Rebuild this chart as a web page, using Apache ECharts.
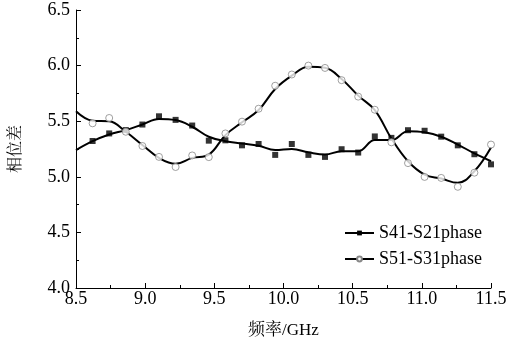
<!DOCTYPE html>
<html>
<head>
<meta charset="UTF-8"/>
<title></title>
<script src="https://cdn.jsdelivr.net/npm/echarts@6/dist/echarts.min.js"></script>
<style>
html,body{margin:0;padding:0;background:#fff;}
#main{width:524px;height:344px;}
</style>
</head>
<body>
<div id="main"></div>
<script type="text/javascript">
// 频率点 (GHz)
var freqCurve = [8.50, 8.62, 8.74, 8.86, 8.98, 9.10, 9.22, 9.34, 9.46, 9.58, 9.70, 9.82, 9.94,
                 10.06, 10.18, 10.30, 10.42, 10.54, 10.66, 10.78, 10.90, 11.02, 11.14, 11.26, 11.38, 11.50];
var freqMark = [8.62, 8.74, 8.86, 8.98, 9.10, 9.22, 9.34, 9.46, 9.58, 9.70, 9.82, 9.94,
                10.06, 10.18, 10.30, 10.42, 10.54, 10.66, 10.78, 10.90, 11.02, 11.14, 11.26, 11.38, 11.50];
// 拟合曲线
var s41Curve = [5.24, 5.32, 5.38, 5.42, 5.47, 5.52, 5.51, 5.45, 5.36, 5.32, 5.30, 5.28, 5.24,
                5.25, 5.22, 5.20, 5.23, 5.23, 5.33, 5.33, 5.41, 5.40, 5.36, 5.29, 5.21, 5.14];
var s51Curve = [5.59, 5.505, 5.50, 5.405, 5.286, 5.17, 5.117, 5.17, 5.20, 5.375, 5.49, 5.60, 5.79,
                5.91, 5.99, 5.98, 5.88, 5.73, 5.60, 5.345, 5.14, 5.02, 4.984, 4.946, 5.05, 5.263];
// 测量点
var s41Mark = [5.322, 5.390, 5.420, 5.470, 5.544, 5.512, 5.461, 5.325, 5.328, 5.283, 5.295, 5.197,
               5.295, 5.197, 5.179, 5.248, 5.218, 5.363, 5.350, 5.419, 5.414, 5.361, 5.283, 5.203, 5.112];
var s51Mark = [5.481, 5.529, 5.405, 5.277, 5.179, 5.088, 5.192, 5.177, 5.390, 5.496, 5.612, 5.819,
               5.920, 6.000, 5.979, 5.869, 5.721, 5.603, 5.310, 5.123, 4.999, 4.990, 4.910, 5.037, 5.290];
var seriesNames = ['S41-S21phase', 'S51-S31phase'];

function pairs(xs, ys) {
  var out = [];
  for (var i = 0; i < xs.length; i++) out.push([xs[i], ys[i]]);
  return out;
}

var font = '"Liberation Serif", "Times New Roman", "Noto Serif CJK SC", "Noto Sans CJK SC", serif';
var myChart = echarts.init(document.getElementById('main'));
var option = {
  backgroundColor: '#fff',
  animation: false,
  textStyle: { fontFamily: font, color: '#000' },
  grid: { left: 76, right: 33, top: 10, bottom: 52 },
  legend: {
    orient: 'vertical',
    left: 339,
    top: 219,
    itemWidth: 29,
    itemHeight: 6,
    itemGap: 8,
    data: seriesNames,
    textStyle: { fontFamily: font, fontSize: 18, color: '#000' }
  },
  xAxis: {
    type: 'value',
    min: 8.5,
    max: 11.5,
    interval: 0.5,
    name: '频率/GHz',
    nameLocation: 'middle',
    nameGap: 34,
    nameTextStyle: { fontFamily: font, fontSize: 17, color: '#000' },
    axisLine: { lineStyle: { color: '#000', width: 1 } },
    axisTick: { inside: true, length: 5, lineStyle: { color: '#000' } },
    minorTick: { show: true, splitNumber: 2, length: 3, lineStyle: { color: '#000' } },
    splitLine: { show: false },
    axisLabel: {
      fontSize: 18, color: '#000', margin: 2,
      formatter: function (v) { return v.toFixed(1); }
    }
  },
  yAxis: {
    type: 'value',
    min: 4.0,
    max: 6.5,
    interval: 0.5,
    name: '相位差',
    nameLocation: 'middle',
    nameGap: 52,
    nameRotate: 90,
    nameTextStyle: { fontFamily: font, fontSize: 16, color: '#000' },
    axisLine: { show: true, lineStyle: { color: '#000', width: 1 } },
    axisTick: { show: true, inside: true, length: 5, lineStyle: { color: '#000' } },
    minorTick: { show: true, splitNumber: 2, length: 3, lineStyle: { color: '#000' } },
    splitLine: { show: false },
    axisLabel: {
      fontSize: 18, color: '#000', margin: 6,
      formatter: function (v) { return v.toFixed(1); }
    }
  },
  series: [
    {
      name: seriesNames[0],
      type: 'line',
      smooth: 0.4,
      symbol: 'rect',
      symbolSize: 6,
      showSymbol: false,
      itemStyle: { color: '#000' },
      lineStyle: { color: '#000', width: 2 },
      data: pairs(freqCurve, s41Curve),
      z: 2
    },
    {
      name: seriesNames[1],
      type: 'line',
      smooth: 0.4,
      symbol: 'circle',
      symbolSize: 6,
      showSymbol: false,
      itemStyle: { color: '#fff', borderColor: '#888', borderWidth: 1 },
      lineStyle: { color: '#000', width: 2 },
      data: pairs(freqCurve, s51Curve),
      z: 2
    },
    {
      type: 'scatter',
      symbol: 'rect',
      symbolSize: 6,
      itemStyle: { color: '#000' },
      data: pairs(freqMark, s41Mark),
      z: 3
    },
    {
      type: 'scatter',
      symbol: 'circle',
      symbolSize: 7,
      itemStyle: { color: '#fff', borderColor: '#888', borderWidth: 1 },
      data: pairs(freqMark, s51Mark),
      z: 3
    }
  ]
};
myChart.setOption(option);
</script>
</body>
</html>
